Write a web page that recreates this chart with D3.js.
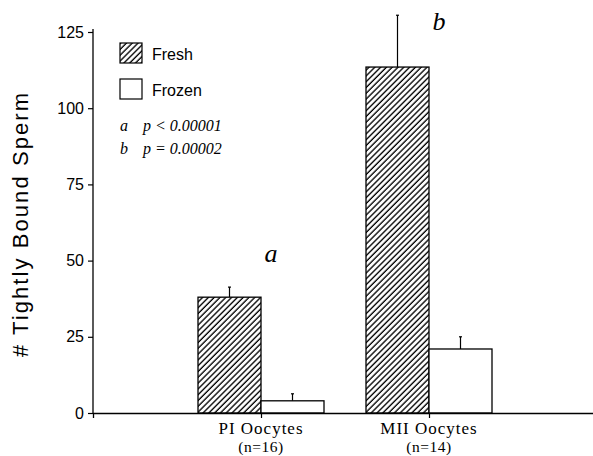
<!DOCTYPE html>
<html><head><meta charset="utf-8">
<script src="https://cdn.jsdelivr.net/npm/d3@7"></script>
<style>body{margin:0;background:#fff}svg{display:block}</style>
</head><body>
<svg id="c" width="593" height="456"></svg>
<script>
const categories = ["PI Oocytes", "MII Oocytes"];
const nLabels = ["(n=16)", "(n=14)"];
const series = ["Fresh", "Frozen"];
const freshValues = [38, 113.5];
const freshErrors = [3.3, 17];
const frozenValues = [4, 21];
const frozenErrors = [2.3, 4];
const sigLetters = ["a", "b"];
const yTicks = [0, 25, 50, 75, 100, 125];
const statLines = [["a", "p < 0.00001"], ["b", "p = 0.00002"]];

const svg = d3.select("#c");
const m = {left: 93, top: 32, bottom: 413, right: 597};
const y = d3.scaleLinear().domain([0, 125]).range([m.bottom, m.top]);
const x = d3.scalePoint().domain(categories).range([m.left, m.right]).padding(1);
const xs = d3.scaleBand().domain(series).range([-63, 63]);

const defs = svg.append("defs");
const pw = 4.1;
const pat = defs.append("pattern").attr("id", "hatch").attr("patternUnits", "userSpaceOnUse")
  .attr("width", pw).attr("height", 10).attr("patternTransform", "rotate(45)");
pat.append("rect").attr("width", pw).attr("height", 10).attr("fill", "#fff");
pat.append("line").attr("x1", 1).attr("x2", 1).attr("y1", 0).attr("y2", 10).attr("stroke", "#000").attr("stroke-width", 1.35);

const data = [];
categories.forEach((c, i) => {
  data.push({cat: c, s: "Fresh", v: freshValues[i], e: freshErrors[i]});
  data.push({cat: c, s: "Frozen", v: frozenValues[i], e: frozenErrors[i]});
});

// error bars
const eb = svg.append("g").attr("stroke", "#000").attr("stroke-width", 1.2);
data.forEach(d => {
  const cx = x(d.cat) + xs(d.s) + xs.bandwidth() / 2;
  eb.append("line").attr("x1", cx).attr("x2", cx).attr("y1", y(d.v)).attr("y2", y(d.v + d.e));
  eb.append("line").attr("x1", cx - 1.5).attr("x2", cx + 1.5).attr("y1", y(d.v + d.e)).attr("y2", y(d.v + d.e));
});

// bars
svg.append("g").selectAll("rect").data(data).join("rect")
  .attr("x", d => x(d.cat) + xs(d.s))
  .attr("width", xs.bandwidth())
  .attr("y", d => y(d.v))
  .attr("height", d => y(0) - y(d.v))
  .attr("fill", d => d.s === "Fresh" ? "url(#hatch)" : "#fff")
  .attr("stroke", "#000").attr("stroke-width", 1.3);

// axes
const ya = svg.append("g").attr("transform", `translate(${m.left},0)`)
  .call(d3.axisLeft(y).tickValues(yTicks).tickSize(5).tickPadding(4).tickSizeOuter(0));
ya.select(".domain").attr("d", `M0,${m.top - 3}V${m.bottom}`).attr("stroke-width", 1.3);
ya.selectAll(".tick line").attr("stroke-width", 1.2);
ya.selectAll("text").attr("font-family", "Liberation Sans, Arial, sans-serif").attr("font-size", 16).attr("fill", "#000");

const xa = svg.append("g").attr("transform", `translate(0,${m.bottom})`)
  .call(d3.axisBottom(x).tickSize(5).tickSizeOuter(5).tickFormat(""));
xa.select(".domain").attr("stroke-width", 1.3);
xa.selectAll(".tick line").attr("stroke-width", 1.2);

// category labels
const cl = svg.append("g").attr("font-family", "Liberation Serif, Times New Roman, serif").attr("text-anchor", "middle");
categories.forEach((c, i) => {
  cl.append("text").attr("x", x(c)).attr("y", 434).attr("font-size", 17).attr("letter-spacing", 1).text(c);
  cl.append("text").attr("x", x(c)).attr("y", 452).attr("font-size", 15.5).attr("letter-spacing", 0.5).text(nLabels[i]);
});

// significance letters
categories.forEach((c, i) => {
  const d = data.find(e => e.cat === c && e.s === "Fresh");
  svg.append("text").attr("x", x(c) + 10).attr("y", y(d.v + d.e) - (i === 0 ? 25 : -15))
    .attr("font-family", "Liberation Serif, Times New Roman, serif").attr("font-style", "italic")
    .attr("font-size", 26).attr("text-anchor", "middle").text(sigLetters[i]);
});

// y label
svg.append("text").attr("transform", "translate(28,225) rotate(-90)")
  .attr("text-anchor", "middle").attr("font-family", "Liberation Sans, Arial, sans-serif")
  .attr("font-size", 22).attr("textLength", 264).attr("lengthAdjust", "spacing").text("# Tightly Bound Sperm");

// legend
const lg = svg.append("g").attr("font-family", "Liberation Sans, Arial, sans-serif").attr("font-size", 16);
series.forEach((s, i) => {
  const yy = 43 + i * 36;
  lg.append("rect").attr("x", 120).attr("y", yy).attr("width", 22).attr("height", 20)
    .attr("fill", s === "Fresh" ? "url(#hatch)" : "#fff").attr("stroke", "#000").attr("stroke-width", 1.2);
  lg.append("text").attr("x", 152).attr("y", yy + 17).text(s);
});

// stats
const st = svg.append("g").attr("font-family", "Liberation Serif, Times New Roman, serif").attr("font-style", "italic").attr("font-size", 16);
statLines.forEach((l, i) => {
  st.append("text").attr("x", 120).attr("y", 131 + i * 23).text(l[0]);
  st.append("text").attr("x", 143).attr("y", 131 + i * 23).text(l[1]);
});
</script>
</body></html>
